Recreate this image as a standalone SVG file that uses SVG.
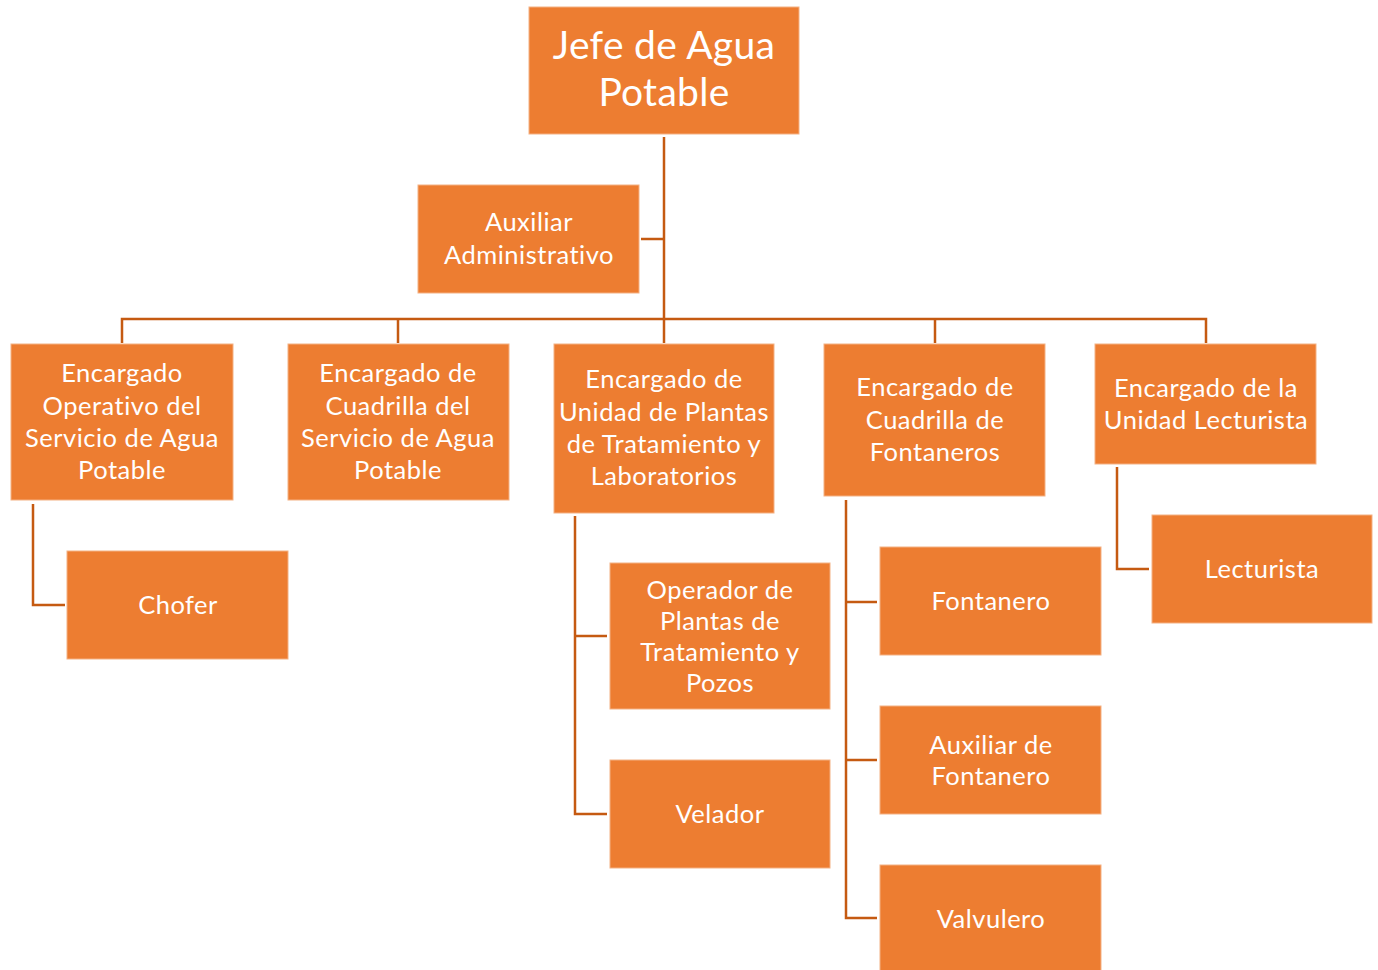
<svg xmlns="http://www.w3.org/2000/svg" width="1378" height="970" viewBox="0 0 1378 970">
  <style>
    .box { fill: #ED7D31; stroke: #F4B183; stroke-width: 1; }
    .lbl { font-family: Lato, "Open Sans", "Liberation Sans", sans-serif; font-size: 25.5px; letter-spacing: 0.5px; fill: #FFFFFF; text-anchor: middle; }
    .big { font-size: 39px; letter-spacing: 0.3px; }
    .conn { fill: none; stroke: #C55A11; stroke-width: 2.5; }
  </style>
  <rect width="1378" height="970" fill="#FFFFFF"/>

  <g id="connectors">
    <path class="conn" d="M664 137 V319" stroke-width="3"/>
    <path class="conn" d="M664 239 H641"/>
    <path class="conn" d="M122 343 V319 H1206 V343"/>
    <path class="conn" d="M398 319 V343"/>
    <path class="conn" d="M664 319 V343"/>
    <path class="conn" d="M935 319 V343"/>
    <path class="conn" d="M33 504 V605 H65"/>
    <path class="conn" d="M575 516 V814 H607"/>
    <path class="conn" d="M575 636 H607"/>
    <path class="conn" d="M846 500 V918 H877"/>
    <path class="conn" d="M846 602 H877"/>
    <path class="conn" d="M846 760 H877"/>
    <path class="conn" d="M1117 467 V569 H1149"/>
  </g>

  <g id="jefe">
    <rect class="box" x="529" y="7" width="270" height="127"/>
    <text class="lbl big" x="664" y="59">Jefe de Agua</text>
    <text class="lbl big" x="664" y="106">Potable</text>
  </g>

  <g id="auxiliar-administrativo">
    <rect class="box" x="418" y="185" width="221" height="108"/>
    <text class="lbl" x="529" y="231">Auxiliar</text>
    <text class="lbl" x="529" y="264">Administrativo</text>
  </g>

  <g id="encargado-operativo">
    <rect class="box" x="11" y="344" width="222" height="156"/>
    <text class="lbl" x="122" y="382">Encargado</text>
    <text class="lbl" x="122" y="415">Operativo del</text>
    <text class="lbl" x="122" y="447">Servicio de Agua</text>
    <text class="lbl" x="122" y="479">Potable</text>
  </g>

  <g id="encargado-cuadrilla-servicio">
    <rect class="box" x="288" y="344" width="221" height="156"/>
    <text class="lbl" x="398" y="382">Encargado de</text>
    <text class="lbl" x="398" y="415">Cuadrilla del</text>
    <text class="lbl" x="398" y="447">Servicio de Agua</text>
    <text class="lbl" x="398" y="479">Potable</text>
  </g>

  <g id="encargado-plantas">
    <rect class="box" x="554" y="344" width="220" height="169"/>
    <text class="lbl" x="664" y="388">Encargado de</text>
    <text class="lbl" x="664" y="421">Unidad de Plantas</text>
    <text class="lbl" x="664" y="453">de Tratamiento y</text>
    <text class="lbl" x="664" y="485">Laboratorios</text>
  </g>

  <g id="encargado-fontaneros">
    <rect class="box" x="824" y="344" width="221" height="152"/>
    <text class="lbl" x="935" y="396">Encargado de</text>
    <text class="lbl" x="935" y="429">Cuadrilla de</text>
    <text class="lbl" x="935" y="461">Fontaneros</text>
  </g>

  <g id="encargado-lecturista">
    <rect class="box" x="1095" y="344" width="221" height="120"/>
    <text class="lbl" x="1206" y="397">Encargado de la</text>
    <text class="lbl" x="1206" y="429">Unidad Lecturista</text>
  </g>

  <g id="chofer">
    <rect class="box" x="67" y="551" width="221" height="108"/>
    <text class="lbl" x="178" y="614">Chofer</text>
  </g>

  <g id="operador">
    <rect class="box" x="610" y="563" width="220" height="146"/>
    <text class="lbl" x="720" y="599">Operador de</text>
    <text class="lbl" x="720" y="630">Plantas de</text>
    <text class="lbl" x="720" y="661">Tratamiento y</text>
    <text class="lbl" x="720" y="692">Pozos</text>
  </g>

  <g id="velador">
    <rect class="box" x="610" y="760" width="220" height="108"/>
    <text class="lbl" x="720" y="823">Velador</text>
  </g>

  <g id="fontanero">
    <rect class="box" x="880" y="547" width="221" height="108"/>
    <text class="lbl" x="991" y="610">Fontanero</text>
  </g>

  <g id="auxiliar-fontanero">
    <rect class="box" x="880" y="706" width="221" height="108"/>
    <text class="lbl" x="991" y="754">Auxiliar de</text>
    <text class="lbl" x="991" y="785">Fontanero</text>
  </g>

  <g id="valvulero">
    <rect class="box" x="880" y="865" width="221" height="108"/>
    <text class="lbl" x="991" y="928">Valvulero</text>
  </g>

  <g id="lecturista">
    <rect class="box" x="1152" y="515" width="220" height="108"/>
    <text class="lbl" x="1262" y="578">Lecturista</text>
  </g>
</svg>
